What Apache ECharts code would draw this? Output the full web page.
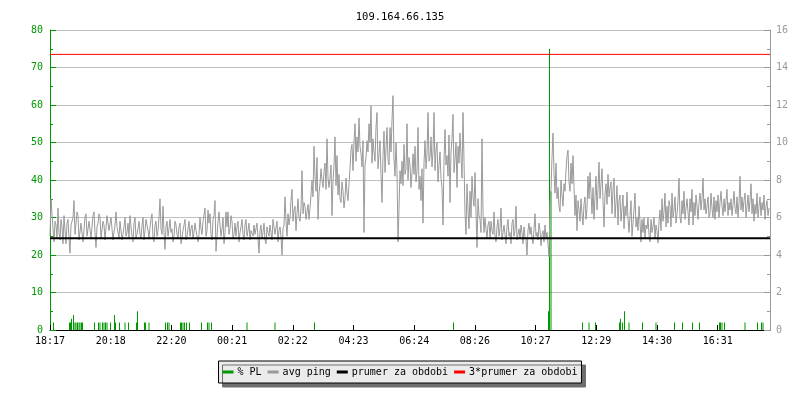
<!DOCTYPE html>
<html>
<head>
<meta charset="utf-8">
<script src="https://cdn.jsdelivr.net/npm/echarts@6/dist/echarts.min.js"></script>
<style>
  html, body { margin: 0; padding: 0; background: #fff; }
  #chart { width: 800px; height: 400px; }
</style>
</head>
<body>
<div id="chart"></div>
<script>
  // time axis: minutes since 18:17, one ping sample every 2 minutes
  var stepMin = 2
  var spanMin = 1440
  var tickStep = 121.4
  var timeLabels = ['18:17', '20:18', '22:20', '00:21', '02:22', '04:23',
    '06:24', '08:26', '10:27', '12:29', '14:30', '16:31']

  // avg ping [ms] (20 samples per row)
  var avgPing = [
    5.0, 7.0, 6.2, 5.4, 4.7, 5.8, 5.6, 4.9, 6.5, 5.2, 4.8, 5.9, 5.5, 4.6, 6.1, 5.3, 4.6, 5.7, 5.9, 4.9,
    4.1, 5.6, 5.8, 6.0, 6.9, 5.1, 5.2, 6.3, 6.1, 4.8, 4.9, 5.7, 5.8, 4.7, 4.6, 6.0, 6.2, 5.0, 5.1, 5.8,
    5.9, 4.9, 4.8, 6.1, 6.3, 5.2, 4.4, 5.5, 5.7, 6.2, 6.0, 4.9, 5.0, 5.8, 5.6, 4.8, 4.9, 6.1, 6.2, 5.3,
    5.2, 6.0, 5.9, 4.8, 4.7, 5.6, 6.3, 5.5, 5.4, 4.9, 5.8, 5.9, 4.8, 5.1, 5.5, 6.0, 5.0, 5.2, 5.7, 4.9,
    6.1, 5.5, 5.0, 4.7, 5.7, 6.0, 4.9, 5.1, 5.4, 5.8, 5.1, 4.9, 5.6, 6.0, 4.8, 5.3, 5.9, 5.6, 5.3, 4.9,
    5.5, 5.9, 6.2, 4.9, 4.7, 5.6, 5.8, 5.0, 5.3, 6.0, 7.0, 5.4, 5.1, 6.6, 5.2, 4.3, 5.5, 5.8, 5.0, 5.4,
    5.9, 5.2, 5.4, 4.7, 5.0, 5.8, 5.6, 5.1, 4.9, 5.5, 5.7, 4.6, 4.9, 5.3, 5.6, 5.9, 4.8, 5.0, 5.4, 5.8,
    5.0, 5.4, 5.6, 4.9, 5.2, 5.7, 5.3, 5.2, 4.7, 5.1, 6.0, 5.4, 5.1, 5.8, 5.9, 6.5, 5.0, 5.3, 6.4, 5.7,
    6.2, 5.1, 4.8, 5.9, 6.1, 6.9, 4.2, 5.0, 5.8, 6.3, 5.6, 5.0, 5.4, 6.0, 4.6, 5.2, 6.3, 5.5, 6.3, 5.1,
    5.4, 6.1, 5.8, 4.9, 5.1, 5.7, 5.0, 5.5, 5.8, 4.7, 5.2, 5.5, 5.9, 5.1, 4.8, 5.6, 5.9, 5.0, 5.3, 5.7,
    4.8, 5.3, 5.4, 5.0, 5.6, 5.1, 5.2, 5.7, 4.9, 4.1, 5.3, 5.6, 4.9, 5.2, 5.7, 4.8, 4.6, 5.5, 5.2, 5.0,
    5.6, 5.2, 4.8, 5.9, 5.5, 5.1, 5.0, 5.8, 4.7, 5.3, 5.5, 5.0, 4.0, 5.4, 5.6, 7.1, 5.8, 5.0, 6.2, 5.6,
    6.0, 6.9, 7.5, 5.8, 6.4, 6.6, 5.3, 6.2, 7.0, 6.0, 5.8, 6.5, 8.5, 6.2, 6.8, 6.6, 5.9, 6.3, 6.7, 5.9,
    6.5, 7.2, 8.0, 7.1, 9.8, 8.2, 7.4, 9.2, 5.9, 7.3, 7.8, 8.6, 8.0, 7.6, 8.4, 8.9, 7.5, 10.2, 8.1, 7.6,
    8.1, 8.8, 6.1, 7.9, 8.8, 10.3, 7.7, 9.3, 7.2, 8.3, 7.0, 6.8, 7.9, 7.4, 6.5, 7.0, 8.1, 7.3, 6.9, 7.8,
    8.6, 9.6, 9.9, 8.5, 10.0, 11.0, 9.0, 10.3, 9.5, 11.3, 9.8, 9.4, 8.7, 10.1, 5.2, 8.8, 9.2, 10.1, 9.5, 11.0,
    10.0, 11.95, 8.9, 10.2, 9.5, 9.0, 10.8, 11.6, 8.6, 9.4, 10.1, 8.3, 6.8, 9.3, 10.6, 8.4, 9.7, 10.8, 9.1, 8.8,
    10.8, 9.5, 11.2, 12.5, 9.1, 8.2, 10.0, 8.5, 4.7, 6.5, 8.5, 7.8, 9.0, 7.7, 9.9, 8.3, 8.6, 11.0, 8.0, 9.2,
    8.8, 7.6, 8.4, 9.4, 8.3, 9.8, 7.9, 8.5, 10.8, 7.5, 8.2, 6.9, 8.6, 5.7, 8.9, 10.1, 8.6, 9.4, 11.6, 9.0,
    9.2, 10.3, 8.7, 9.5, 11.6, 8.5, 9.6, 10.0, 7.9, 8.8, 9.5, 8.1, 7.6, 5.6, 9.0, 10.7, 8.8, 9.3, 8.2, 10.4,
    6.8, 9.5, 10.2, 11.5, 8.4, 9.1, 10.0, 7.6, 9.8, 8.9, 10.5, 9.3, 8.1, 11.6, 9.0, 6.2, 5.1, 7.8, 6.4, 5.4,
    7.4, 6.0, 8.2, 7.1, 6.6, 8.4, 6.3, 4.4, 7.0, 6.1, 5.9, 5.2, 10.2, 6.3, 5.2, 6.0, 5.4, 4.9, 5.6, 5.8,
    4.9, 5.8, 5.3, 5.1, 6.3, 5.0, 4.7, 5.5, 5.9, 5.0, 5.4, 6.5, 4.8, 5.2, 5.6, 5.1, 4.6, 5.5, 5.9, 5.0,
    5.2, 4.6, 5.7, 5.9, 5.0, 5.3, 6.6, 4.8, 5.1, 5.4, 4.9, 5.6, 5.2, 4.6, 5.5, 5.0, 4.8, 4.0, 5.3, 5.7,
    5.1, 5.5, 4.9, 4.6, 5.4, 6.2, 5.0, 5.2, 4.8, 5.7, 5.3, 4.5, 5.1, 5.3, 4.7, 5.6, 4.9, 5.2, 4.6, 3.9,
    6.8, 7.5, 9.2, 10.5, 8.4, 7.3, 8.9, 7.0, 7.6, 6.6, 6.3, 8.0, 7.2, 6.6, 7.8, 7.4, 8.5, 9.3, 9.6, 7.9,
    7.4, 8.9, 7.8, 9.3, 7.6, 6.1, 7.2, 5.3, 6.9, 6.4, 5.8, 7.0, 6.2, 5.6, 6.7, 7.1, 5.9, 6.5, 8.2, 7.0,
    8.4, 7.3, 6.2, 7.6, 5.9, 7.1, 8.2, 6.4, 7.5, 8.95, 7.0, 7.8, 8.6, 6.9, 5.5, 7.3, 7.8, 6.7, 8.3, 7.1,
    7.6, 7.9, 6.2, 7.5, 8.1, 6.0, 6.8, 7.7, 5.6, 6.9, 7.2, 5.8, 6.5, 7.2, 5.4, 6.6, 6.1, 7.35, 5.9, 5.2,
    6.1, 6.9, 5.0, 5.7, 6.4, 7.3, 5.5, 6.0, 5.3, 6.6, 5.8, 4.7, 5.9, 5.2, 6.0, 4.9, 5.6, 5.4, 6.0, 5.1,
    4.7, 5.9, 5.2, 5.5, 6.0, 4.9, 5.6, 5.3, 4.65, 5.8, 6.4, 5.3, 7.0, 5.8, 6.3, 7.3, 5.5, 6.6, 5.7, 6.9,
    6.6, 5.5, 7.3, 6.0, 6.4, 7.1, 5.7, 6.2, 6.9, 8.1, 6.0, 5.7, 6.9, 6.2, 7.4, 5.9, 6.5, 7.0, 6.3, 5.6,
    7.0, 6.3, 7.5, 5.6, 6.8, 6.1, 7.2, 6.6, 5.9, 6.8, 7.3, 6.4, 7.0, 8.1, 6.4, 7.0, 6.2, 6.6, 7.1, 6.0,
    6.2, 7.3, 6.5, 6.0, 7.1, 5.9, 6.9, 6.3, 7.2, 6.0, 6.8, 7.4, 6.6, 6.1, 7.0, 6.3, 6.9, 7.5, 6.1, 6.8,
    6.4, 7.0, 6.1, 6.7, 7.4, 6.5, 6.2, 7.1, 6.0, 6.8, 8.2, 6.4, 7.1, 6.3, 6.9, 7.3, 6.0, 6.6, 7.2, 6.3,
    6.9, 7.8, 6.2, 7.0, 5.8, 6.7, 6.2, 7.3, 6.0, 6.6, 7.1, 6.1, 6.8, 6.4, 7.2, 5.9, 6.6, 6.9, 6.1, 6.5
  ]

  // packet loss [%]: [minute, percent], zero elsewhere
  var packetLoss = [
    [7, 2], [39, 2], [41, 2], [43, 3], [47, 4], [50, 2], [52, 2], [55, 2], [58, 2], [60, 2], [63, 2], [65, 2],
    [89, 2], [97, 2], [100, 2], [105, 2], [108, 2], [111, 2], [114, 2],
    [121, 2], [129, 4], [131, 2], [139, 2], [150, 2], [157, 2],
    [173, 2], [175, 5], [189, 2], [191, 2], [198, 2],
    [231, 2], [235, 2], [238, 2],
    [261, 2], [263, 2], [266, 2], [269, 2], [273, 2], [279, 2],
    [303, 2], [315, 2], [318, 2], [323, 2],
    [394, 2], [450, 2], [529, 2], [807, 2],
    [997, 5], [999, 75], [1002, 37],
    [1065, 2], [1078, 2], [1091, 2],
    [1139, 2], [1141, 3], [1145, 2], [1149, 5], [1158, 2],
    [1185, 2], [1212, 2], [1249, 2], [1265, 2], [1285, 2], [1299, 2],
    [1339, 2], [1341, 2], [1344, 2], [1349, 2],
    [1390, 2], [1415, 2], [1423, 2], [1426, 2]
  ]

  var meanPing = 4.9 // prumer za obdobi

  var font = 'DejaVu Sans Mono, monospace'
  var green = '#009900'
  var gray = '#999999'

  var chart = echarts.init(document.getElementById('chart'))
  chart.setOption({
    animation: false,
    textStyle: { fontFamily: font },
    title: {
      text: '109.164.66.135',
      left: 'center',
      top: 7,
      textStyle: { fontFamily: font, fontSize: 10.5, fontWeight: 'normal', color: '#000' }
    },
    legend: {
      bottom: 17,
      left: 'center',
      padding: [6, 4],
      itemGap: 6,
      itemWidth: 11,
      itemHeight: 3,
      icon: 'rect',
      backgroundColor: '#ebebeb',
      borderColor: '#000',
      borderWidth: 1,
      borderRadius: 0,
      shadowColor: '#6e6e6e',
      shadowBlur: 0,
      shadowOffsetX: 4,
      shadowOffsetY: 4,
      textStyle: { fontFamily: font, fontSize: 10, color: '#000', padding: [0, 0, 0, -1] },
      data: ['% PL', 'avg ping', 'prumer za obdobi', '3*prumer za obdobi']
    },
    grid: { left: 50, right: 30, top: 30, bottom: 70 },
    xAxis: {
      type: 'value',
      min: 0,
      max: spanMin,
      interval: tickStep,
      axisLine: { lineStyle: { color: '#000', width: 1 } },
      axisTick: { inside: true, length: 5, lineStyle: { color: '#000' } },
      splitLine: { show: false },
      axisLabel: {
        color: '#000',
        fontFamily: font,
        fontSize: 10,
        margin: 6,
        showMaxLabel: false,
        formatter: function(v) {
          var k = Math.round(v / tickStep)
          return timeLabels[k] || ''
        }
      }
    },
    yAxis: [
      {
        type: 'value',
        min: 0,
        max: 80,
        interval: 10,
        axisLine: { show: true, lineStyle: { color: green } },
        axisTick: { show: true, inside: true, length: 6, lineStyle: { color: green } },
        minorTick: { show: true, splitNumber: 2, length: 3, lineStyle: { color: green } },
        splitLine: { lineStyle: { color: '#c0c0c0' } },
        axisLabel: { color: green, fontFamily: font, fontSize: 10, margin: 7 }
      },
      {
        type: 'value',
        min: 0,
        max: 16,
        interval: 2,
        position: 'right',
        axisLine: { show: true, lineStyle: { color: gray } },
        axisTick: { show: true, inside: true, length: 6, lineStyle: { color: gray } },
        minorTick: { show: true, splitNumber: 2, length: 3, lineStyle: { color: gray } },
        splitLine: { show: false },
        axisLabel: { color: gray, fontFamily: font, fontSize: 10, margin: 6 }
      }
    ],
    series: [
      {
        name: '% PL',
        type: 'bar',
        yAxisIndex: 0,
        barWidth: 1,
        itemStyle: { color: green },
        data: packetLoss
      },
      {
        name: 'avg ping',
        type: 'line',
        yAxisIndex: 1,
        showSymbol: false,
        symbol: 'none',
        itemStyle: { color: gray },
        lineStyle: { color: gray, width: 1 },
        data: avgPing.map(function(v, i) { return [i * stepMin, v] })
      },
      {
        name: 'prumer za obdobi',
        type: 'line',
        yAxisIndex: 1,
        symbol: 'none',
        itemStyle: { color: '#000' },
        lineStyle: { color: '#000', width: 2 },
        data: [[0, meanPing], [spanMin, meanPing]]
      },
      {
        name: '3*prumer za obdobi',
        type: 'line',
        yAxisIndex: 1,
        symbol: 'none',
        itemStyle: { color: '#ff0000' },
        lineStyle: { color: '#ff0000', width: 1 },
        data: [[0, 3 * meanPing], [spanMin, 3 * meanPing]]
      }
    ]
  })
</script>
</body>
</html>
